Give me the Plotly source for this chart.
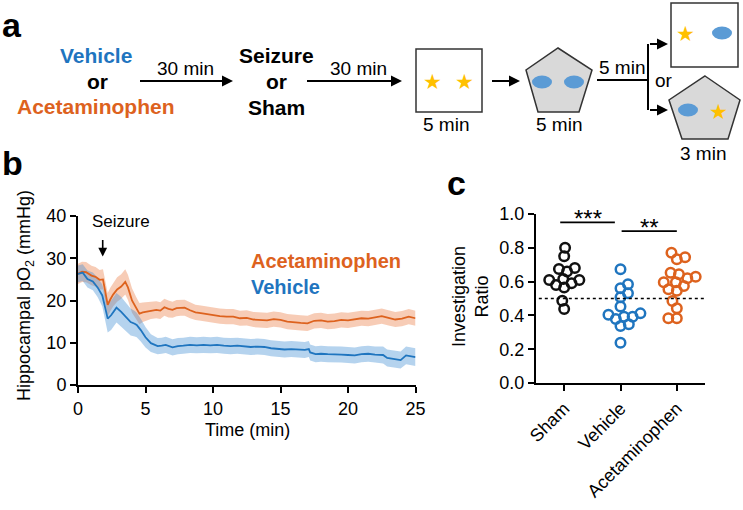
import plotly.graph_objects as go

W, H = 743, 510
FONT = "Liberation Sans, Arial, sans-serif"
BLUE = "#1F75BF"
ORANGE = "#DD621E"
STAR = "#FFC000"
ELL = "#5B9BD5"

# ---------------- Panel b data (time in min, pO2 in mmHg) ----------------
acet_t = [0, 0.3, 0.6, 1.0, 1.3, 1.6, 1.85, 2.0, 2.2, 2.4, 2.6, 2.9, 3.2, 3.5, 3.7, 4.0, 4.3, 4.55,
          4.8, 5.1, 5.4, 5.8, 6.1, 6.4, 6.7, 7.0, 7.3, 7.6, 7.9, 8.3, 8.7, 9.1, 9.6, 10.0, 10.5,
          11.0, 11.5, 12.0, 12.5, 13.0, 13.5, 14.0, 14.5, 15.0, 15.5, 16.0, 16.5, 17.0, 17.5,
          18.0, 18.5, 19.0, 19.5, 20.0, 20.5, 21.0, 21.5, 22.0, 22.5, 23.0, 23.5, 24.0, 24.5, 25.0]
acet_m = [26.3, 26.8, 26.7, 25.9, 25.6, 24.9, 25.0, 22.7, 19.0, 20.3, 21.4, 22.6, 23.3, 24.4, 23.1,
          20.0, 18.2, 16.9, 17.2, 17.4, 17.7, 17.8, 17.6, 18.4, 18.0, 17.8, 18.2, 18.3, 18.3, 17.7,
          17.2, 17.0, 16.7, 16.6, 16.3, 16.2, 16.2, 15.8, 15.9, 15.5, 15.4, 15.3, 15.6, 15.4, 15.0,
          14.8, 14.7, 14.6, 15.2, 15.3, 15.0, 15.1, 15.4, 15.3, 15.5, 15.8, 15.7, 16.0, 16.3, 15.9,
          15.5, 15.7, 16.2, 15.8]
acet_s = [2.4, 2.4, 2.4, 2.3, 2.3, 2.3, 2.4, 2.6, 2.8, 2.8, 2.8, 2.9, 2.9, 3.0, 3.0, 2.9, 2.7, 2.5,
          2.3, 2.2, 2.1, 2.0, 2.0, 2.0, 2.0, 1.9, 1.9, 1.9, 1.9, 1.9, 1.8, 1.8, 1.8, 1.8, 1.8,
          1.8, 1.8, 1.8, 1.8, 1.8, 1.8, 1.8, 1.8, 1.8, 1.8, 1.8, 1.8, 1.8, 1.8, 1.8, 1.8, 1.8,
          1.8, 1.8, 1.8, 1.8, 1.8, 1.8, 1.8, 1.8, 1.8, 1.8, 1.8, 1.8]

veh_t = [0, 0.35, 0.7, 1.1, 1.45, 1.8, 2.0, 2.2, 2.45, 2.65, 2.85, 3.2, 3.55, 3.9, 4.2, 4.35, 4.65,
         5.0, 5.4, 5.9, 6.2, 6.5, 7.0, 7.4, 7.8, 8.3, 8.8, 9.3, 9.8, 10.3, 10.8, 11.3, 11.8,
         12.3, 12.8, 13.3, 13.8, 14.3, 14.8, 15.3, 15.8, 16.3, 16.8, 17.1, 17.2, 17.6, 18.0, 18.5,
         19.0, 19.5, 20.0, 20.5, 21.0, 21.5, 22.0, 22.6, 22.9, 23.4, 23.9, 24.3, 24.6, 25.0]
veh_m = [26.3, 26.6, 25.1, 24.5, 23.1, 21.2, 18.5, 15.7, 16.5, 17.4, 18.3, 17.3, 16.1, 14.9, 14.5,
         14.2, 13.0, 11.3, 9.9, 9.2, 9.3, 9.5, 8.9, 9.2, 9.3, 9.5, 9.4, 9.5, 9.4, 9.5, 9.3, 9.2,
         9.3, 9.2, 9.0, 9.1, 9.0, 8.7, 8.6, 8.4, 8.5, 8.4, 8.3, 8.5, 7.7, 7.3, 7.4, 7.3, 7.3,
         7.2, 7.1, 7.0, 7.3, 7.4, 7.2, 7.1, 6.4, 6.2, 5.9, 7.0, 6.8, 6.6]
veh_s = [2.0, 2.0, 2.0, 2.1, 2.3, 2.6, 3.0, 3.3, 3.5, 3.5, 3.5, 3.5, 3.4, 3.2, 3.0, 2.9, 2.7,
         2.4, 2.1, 1.9, 1.9, 1.9, 1.9, 1.9, 1.9, 1.9, 1.9, 1.9, 1.9, 1.9, 1.9, 1.9, 1.9,
         1.9, 1.9, 1.9, 1.9, 1.9, 1.9, 1.9, 1.9, 1.9, 1.9, 1.9, 1.9, 1.9, 1.9, 1.9,
         1.9, 1.9, 1.9, 1.9, 1.9, 1.9, 1.9, 2.0, 2.0, 2.0, 2.0, 2.1, 2.1, 2.1]

# ---------------- Panel c data (investigation ratio) ----------------
groups = ["Sham", "Vehicle", "Acetaminophen"]
sham_vals = [0.80, 0.75, 0.68, 0.675, 0.66, 0.615, 0.61, 0.61, 0.58, 0.59, 0.565, 0.487, 0.438]
veh_vals = [0.673, 0.584, 0.56, 0.531, 0.507, 0.452, 0.404, 0.412, 0.392, 0.392, 0.379, 0.347,
            0.337, 0.238]
acet_vals = [0.771, 0.744, 0.732, 0.653, 0.643, 0.629, 0.62, 0.596, 0.596, 0.574, 0.554, 0.546,
             0.485, 0.442, 0.383, 0.383]
group_colors = ["#111111", BLUE, ORANGE]

# ---------------- layout geometry ----------------
B_X = [78 / W, 415.5 / W]
B_Y = [1 - 385 / H, 1 - 216 / H]
C_X = [536 / W, 705 / W]
C_Y = [1 - 383 / H, 1 - 214 / H]


def P(px):
    return px / W


def Q(py):
    return 1 - py / H


def swarm(vals, d, sx, sy):
    placed = []
    offs = [0.0] * len(vals)
    order = sorted(range(len(vals)), key=lambda i: vals[i])
    for k, i in enumerate(order):
        y = vals[i] * sy
        cands = [0.0]
        for xj, yj in placed:
            dy = y - yj
            if abs(dy) < d:
                dx = (d * d - dy * dy) ** 0.5
                cands += [xj + dx, xj - dx]
        sign = 1 if k % 2 == 0 else -1
        cands.sort(key=lambda c: (round(abs(c), 6), -sign * c))
        chosen = cands[-1]
        for c in cands:
            if all((c - xj) ** 2 + (y - yj) ** 2 >= d * d - 1e-6 for xj, yj in placed):
                chosen = c
                break
        placed.append((chosen, y))
        offs[i] = chosen / sx
    return offs


fig = go.Figure()


def band(t, m, s, color):
    up = [a + b for a, b in zip(m, s)]
    lo = [a - b for a, b in zip(m, s)]
    fig.add_trace(go.Scatter(x=t, y=up, mode="lines", line=dict(width=0), hoverinfo="skip",
                             showlegend=False, xaxis="x", yaxis="y"))
    fig.add_trace(go.Scatter(x=t, y=lo, mode="lines", line=dict(width=0), fill="tonexty",
                             fillcolor=color, hoverinfo="skip", showlegend=False,
                             xaxis="x", yaxis="y"))


band(acet_t, acet_m, acet_s, "rgba(232,110,45,0.35)")
band(veh_t, veh_m, veh_s, "rgba(60,140,210,0.38)")
fig.add_trace(go.Scatter(x=acet_t, y=acet_m, mode="lines", line=dict(color=ORANGE, width=1.8),
                         showlegend=False, xaxis="x", yaxis="y"))
fig.add_trace(go.Scatter(x=veh_t, y=veh_m, mode="lines", line=dict(color=BLUE, width=1.8),
                         showlegend=False, xaxis="x", yaxis="y"))

# panel c points
sx = (C_X[1] - C_X[0]) * W / 3.0
sy = (C_Y[1] - C_Y[0]) * H / 1.0
for gi, (vals, col) in enumerate(zip([sham_vals, veh_vals, acet_vals], group_colors)):
    offs = swarm(vals, 8.5, sx, sy)
    fig.add_trace(go.Scatter(x=[gi + o for o in offs], y=vals, mode="markers",
                             marker=dict(symbol="circle-open", size=9.5, color=col,
                                         line=dict(width=2.5, color=col)),
                             showlegend=False, xaxis="x2", yaxis="y2"))

axis_common = dict(showline=True, linecolor="black", linewidth=2, ticks="outside", ticklen=6,
                   tickwidth=2, tickcolor="black", showgrid=False, zeroline=False,
                   automargin=False,
                   tickfont=dict(family=FONT, size=18, color="black"))

fig.update_layout(
    template="none",
    width=W, height=H, margin=dict(l=0, r=0, t=0, b=0, pad=0, autoexpand=False),
    paper_bgcolor="white", plot_bgcolor="white", showlegend=False,
    font=dict(family=FONT, color="black"),
    xaxis=dict(domain=B_X, range=[0, 25], tickvals=[0, 5, 10, 15, 20, 25], anchor="y",
               **axis_common),
    yaxis=dict(domain=B_Y, range=[0, 40], tickvals=[0, 10, 20, 30, 40], anchor="x",
               **axis_common),
    xaxis2=dict(domain=C_X, range=[-0.5, 2.5], tickvals=[0, 1, 2], ticktext=groups,
                tickangle=-45, anchor="y2", **axis_common),
    yaxis2=dict(domain=C_Y, range=[0, 1.0], tickvals=[0, 0.2, 0.4, 0.6, 0.8, 1.0],
                tickformat=".1f", anchor="x2", **axis_common),
)

shapes = []
ann = []


def text(px, py, s, size=19, bold=False, color="black", **kw):
    ann.append(dict(x=P(px), y=Q(py), xref="paper", yref="paper", showarrow=False,
                    text=f"<b>{s}</b>" if bold else s,
                    font=dict(family=FONT, size=size, color=color),
                    xanchor=kw.pop("xanchor", "center"), yanchor=kw.pop("yanchor", "middle"), **kw))


def arrow(x0, y0, x1, y1, width=2):
    ann.append(dict(x=P(x1), y=Q(y1), xref="paper", yref="paper", ax=x0 - x1, ay=y0 - y1,
                    axref="pixel", ayref="pixel", showarrow=True, arrowhead=2, arrowsize=1.1,
                    arrowwidth=width, arrowcolor="black", text=" ", standoff=0))


def line(x0, y0, x1, y1, width=2):
    shapes.append(dict(type="line", xref="paper", yref="paper", x0=P(x0), y0=Q(y0), x1=P(x1),
                       y1=Q(y1), line=dict(color="black", width=width)))


def poly(pts, fill):
    d = "M " + " L ".join(f"{P(x):.5f},{Q(y):.5f}" for x, y in pts) + " Z"
    shapes.append(dict(type="path", xref="paper", yref="paper", path=d, fillcolor=fill,
                       line=dict(color="#333333", width=1.5), layer="below"))


def ellipse(cx, cy, w=20, h=13):
    shapes.append(dict(type="circle", xref="paper", yref="paper", x0=P(cx - w / 2), x1=P(cx + w / 2),
                       y0=Q(cy + h / 2), y1=Q(cy - h / 2), fillcolor=ELL, line=dict(width=0)))


def star(cx, cy):
    text(cx, cy + 1, "★", size=21, color=STAR)


# ---------------- Panel a ----------------
text(12, 25, "a", size=34, bold=True)
text(96, 55, "Vehicle", size=21, bold=True, color=BLUE)
text(97, 82, "or", size=21, bold=True)
text(96, 106, "Acetaminophen", size=21, bold=True, color=ORANGE)
arrow(137, 81, 233, 81)
text(185, 69, "30 min")
text(276, 55, "Seizure", size=21, bold=True)
text(276, 82, "or", size=21, bold=True)
text(276, 107, "Sham", size=21, bold=True)
arrow(304, 81, 402, 81)
text(358, 69, "30 min")
shapes.append(dict(type="rect", xref="paper", yref="paper", x0=P(416), x1=P(482), y0=Q(112),
                   y1=Q(49), line=dict(color="#333333", width=1.5), fillcolor="white", layer="below"))
star(432, 80)
star(465, 80)
text(446, 124, "5 min")
arrow(489, 81, 520, 81)
poly([(558, 48), (592, 70), (579, 112), (538, 112), (526, 70)], "#D9D9D9")
ellipse(542, 82)
ellipse(574, 82)
text(559, 124, "5 min")
line(597, 80, 648, 80)
text(622, 68, "5 min")
line(648, 44, 648, 110)
arrow(647, 44, 668, 44)
arrow(647, 110, 668, 110)
text(664, 80, "or")
shapes.append(dict(type="rect", xref="paper", yref="paper", x0=P(671), x1=P(738), y0=Q(67),
                   y1=Q(3), line=dict(color="#333333", width=1.5), fillcolor="white", layer="below"))
star(685, 33)
ellipse(722, 33)
poly([(705, 76), (740, 100), (728, 139), (682, 139), (669, 100)], "#D9D9D9")
ellipse(688, 110)
star(718, 110)
text(703, 153, "3 min")

# ---------------- Panel b annotations ----------------
text(12, 163, "b", size=34, bold=True)
text(25, 296, "Hippocampal pO<sub>2</sub> (mmHg)", size=18, textangle=-90)
text(247, 430, "Time (min)", size=18)
text(249, 261, "Acetaminophen", size=20, bold=True, color=ORANGE, xanchor="left")
text(249, 287, "Vehicle", size=20, bold=True, color=BLUE, xanchor="left")
text(121, 221, "Seizure", size=17)
ann.append(dict(x=1.83, y=30.4, xref="x", yref="y", ax=0, ay=-25, axref="pixel", ayref="pixel",
                showarrow=True, arrowhead=2, arrowsize=1.1, arrowwidth=1.6, arrowcolor="black",
                text=" ", standoff=0))

# ---------------- Panel c annotations ----------------
text(456, 183, "c", size=34, bold=True)
text(470, 296, "Investigation<br>Ratio", size=18, textangle=-90)
shapes.append(dict(type="line", xref="x2", yref="y2", x0=-0.45, x1=2.5, y0=0.5, y1=0.5,
                   line=dict(color="black", width=1.5, dash="dot")))
for x0, x1, yv, lab in [(-0.05, 2.0, 1.034, "ns"), (-0.07, 0.9, 0.951, "***"),
                        (1.02, 2.0, 0.899, "**")]:
    shapes.append(dict(type="line", xref="x2", yref="y2", x0=x0, x1=x1, y0=yv, y1=yv,
                       line=dict(color="black", width=1.8)))
    is_ns = lab == "ns"
    ann.append(dict(x=(x0 + x1) / 2, y=yv, xref="x2", yref="y2", showarrow=False, text=lab,
                    yanchor="bottom", yshift=(0 if is_ns else -12),
                    font=dict(family=FONT, size=18 if is_ns else 24, color="black")))

fig.update_layout(shapes=shapes, annotations=ann)
fig.write_html(
    "out.html",
    config={"displayModeBar": False, "staticPlot": True},
    post_script=("document.body.style.margin='0px';document.body.style.padding='0px';"
                 "document.body.style.overflow='hidden';"),
)
